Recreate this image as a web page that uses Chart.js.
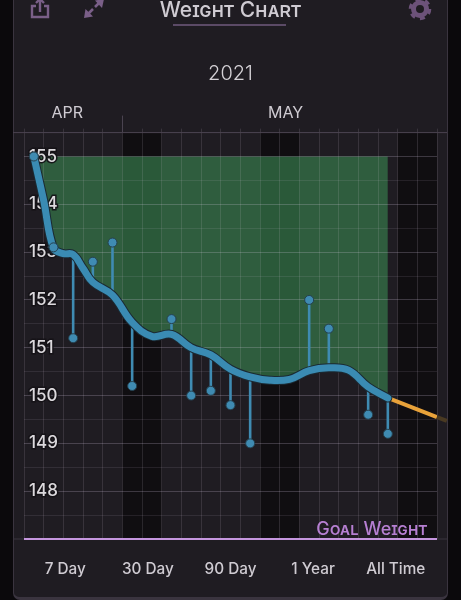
<!DOCTYPE html>
<html><head><meta charset="utf-8">
<script src="https://cdn.jsdelivr.net/npm/chart.js@4"></script>
<style>
html,body{margin:0;padding:0;background:#0b090c;width:461px;height:600px;overflow:hidden}
#card{position:absolute;left:13px;top:-10px;width:433px;height:606px;background:#1f1c22;border:1px solid #3a343f;border-bottom:3px solid #3a343f;border-radius:0 0 7px 7px}
canvas{position:absolute;left:0;top:0}
#rule{position:absolute;left:173px;top:24px;width:113px;height:2px;background:#5b4a66}
svg{position:absolute;left:0;top:0}
</style></head><body>
<div id="card"></div>
<div id="rule"></div>
<svg width="461" height="40" viewBox="0 0 461 40">
  <g fill="none" stroke="#7a5f88" stroke-width="2.4">
    <path d="M36 6H32V17H48V6H44"/><path d="M40 12V0"/>
    <path d="M36 3L40 -1L44 3"/>
  </g>
  <g fill="none" stroke="#7a5f88" stroke-width="2.6">
    <path d="M88 14L93 9M95 7L100 2"/>
  </g>
  <g fill="#7a5f88"><path d="M84 18L85.5 9L93 16.5Z"/><path d="M104 -1L102 8L95 0.5Z"/></g>
  <circle cx="420" cy="9" r="6.5" fill="none" stroke="#6c5279" stroke-width="5"/>
  <circle cx="420" cy="9" r="9.6" fill="none" stroke="#6c5279" stroke-width="3.4" stroke-dasharray="5 5.05"/>
</svg>
<canvas id="c" width="461" height="600"></canvas>
<script>
const trendDays=[0.5,1,1.5,2,2.5,3,3.5,4.5,5.5,6.5,7.5,8.5,9.5,10.5,11.5,12.5,13.5,14.5,15.5,16.5,17.5,18.5];
const trendVals=[155,154.08,153.08,152.97,152.95,152.66,152.37,152.1,151.53,151.24,151.28,151,150.85,150.55,150.39,150.32,150.34,150.52,150.58,150.53,150.18,149.95];
const weighDays=[0.5,1.5,2.5,3.5,4.5,5.5,7.5,8.5,9.5,10.5,11.5,14.5,15.5,17.5,18.5];
const weighVals=[155,153.1,151.2,152.8,153.2,150.2,151.6,150,150.1,149.8,149,152,151.4,149.6,149.2];
const projDays=[18.5,21];
const projVals=[149.95,149.55];
const fadeDays=[21,21.5];
const fadeVals=[149.55,149.47];
const goalDays=[0,21];
const goalVals=[147,147];
const weekendDays=[5,6,12,13,19,20];
const monthLabels=['APR','MAY'];
const monthAt=[2.2,13.3];
const may1=5;
const tabs=['7 Day','30 Day','90 Day','1 Year','All Time'];
const chartTitle='Weight Chart', yearLabel='2021', goalLabel='Goal Weight';
const FONT='Inter, "Open Sans", sans-serif';

const pts=(xs,ys)=>xs.map((x,i)=>({x,y:ys[i]}));
const stems=weighDays.map((d,i)=>({
  type:'line',data:[{x:d,y:weighVals[i]},{x:d,y:trendVals[trendDays.indexOf(d)]}],
  borderColor:'#3f8bb2',borderWidth:2.6,pointRadius:[4.5,0],pointBackgroundColor:'#3f8bb2',
  pointBorderColor:'#25414f',pointBorderWidth:1,order:4
}));

const backdrop={id:'backdrop',
  beforeDraw(ch){
    const {ctx}=ch,x=ch.scales.x,a=ch.chartArea;
    ctx.save();ctx.globalCompositeOperation='destination-over';ctx.fillStyle='#100e11';
    weekendDays.forEach(d=>{
      const l=x.getPixelForValue(d),r=x.getPixelForValue(d+1);
      ctx.fillRect(l,a.top,r-l,a.bottom-a.top);
    });
    ctx.restore();
  },
  beforeDatasetsDraw(ch){
    const {ctx}=ch,x=ch.scales.x,a=ch.chartArea;
    ctx.save();ctx.lineWidth=1;
    ctx.strokeStyle='#4a4350';
    ctx.beginPath();ctx.moveTo(13,a.top);ctx.lineTo(447,a.top);ctx.stroke();
    ctx.strokeStyle='#3a343f';
    ctx.beginPath();ctx.moveTo(13,a.bottom);ctx.lineTo(447,a.bottom);ctx.stroke();
    const m=Math.round(x.getPixelForValue(may1))+.5;
    ctx.strokeStyle='#4a4350';
    ctx.beginPath();ctx.moveTo(m,a.top-17);ctx.lineTo(m,a.top);ctx.stroke();
    ctx.restore();
  },
  afterDatasetsDraw(ch){
    const {ctx}=ch,x=ch.scales.x,y=ch.scales.y;
    ctx.save();ctx.font='small-caps 500 18px '+FONT;ctx.fillStyle='#b67fd2';
    ctx.textAlign='right';ctx.textBaseline='alphabetic';
    ctx.fillText(goalLabel,x.getPixelForValue(20.5),y.getPixelForValue(147)-4);
    ctx.restore();
  }
};

new Chart(document.getElementById('c'),{
  type:'line',
  data:{labels:tabs,datasets:[
    {data:pts(goalDays,goalVals),borderColor:'#c596de',borderWidth:2,pointRadius:0,clip:false,order:6},
    {data:pts(fadeDays,fadeVals),borderColor:'#4a3a22',borderWidth:4,pointRadius:0,clip:false,order:5},
    {data:pts(projDays,projVals),borderColor:'#e8a23a',borderWidth:4,pointRadius:0,order:5},
    ...stems,
    {data:pts(trendDays,trendVals),borderColor:'#1b2a33',borderWidth:9,pointRadius:0,tension:0.4,borderCapStyle:'round',order:3},
    {data:pts(trendDays,trendVals),borderColor:'#3a8bb3',borderWidth:7,pointRadius:0,tension:0.4,borderCapStyle:'round',
      fill:{value:155},backgroundColor:'rgba(55,125,76,0.67)',order:2},
    {data:[{x:weighDays[0],y:weighVals[0]},{x:weighDays[1],y:weighVals[1]}],showLine:false,pointRadius:4.5,pointBackgroundColor:'#3f8bb2',pointBorderColor:'#25414f',pointBorderWidth:1,order:1}
  ]},
  plugins:[backdrop],
  options:{
    responsive:false,animation:false,devicePixelRatio:1,
    parsing:{xAxisKey:'x',yAxisKey:'y'},
    layout:{padding:{left:24,right:24,top:0,bottom:0}},
    plugins:{
      legend:{display:false},tooltip:{enabled:false},
      filler:{drawTime:'beforeDraw',propagate:false},
      title:{display:true,text:chartTitle,color:'#cfcbd2',font:{family:FONT,size:21,weight:'small-caps 500',lineHeight:1.0},padding:{top:0,bottom:43}},
      subtitle:{display:true,text:yearLabel,color:'#d4d1d6',font:{family:FONT,size:20,weight:'300',lineHeight:1.0},padding:{top:0,bottom:0.6}}
    },
    scales:{
      x:{type:'linear',position:'top',min:0,max:21,offset:false,
        ticks:{stepSize:1,display:false,autoSkip:false},
        border:{display:false},
        grid:{color:'rgba(225,210,235,0.13)',lineWidth:1,tickLength:4,drawTicks:true},
        afterFit(s){s.height=4;}
      },
      months:{type:'linear',position:'top',min:0,max:21,
        afterBuildTicks(s){s.ticks=monthAt.map(v=>({value:v}));},
        ticks:{callback:(v)=>monthLabels[monthAt.indexOf(v)],color:'#cfcbd2',font:{family:FONT,size:16},padding:-2,maxRotation:0,autoSkip:false},
        border:{display:false},grid:{display:false},
        afterFit(s){s.height=44;}
      },
      tabs:{type:'category',position:'bottom',labels:tabs,offset:true,
        ticks:{color:'#cfcbd2',font:{family:FONT,size:15.3,weight:'500'},padding:21,maxRotation:0,autoSkip:false},
        border:{display:false},grid:{display:false,drawTicks:false},
        afterFit(s){s.height=61;}
      },
      y:{type:'linear',position:'left',min:147,max:155.5,
        afterBuildTicks(s){s.ticks=[];for(let v=147;v<=155.5;v+=0.5)s.ticks.push({value:v});},
        ticks:{mirror:true,padding:5,autoSkip:false,color:'#dcd9dd',font:{family:FONT,size:17,weight:'500'},
          textStrokeColor:'rgba(20,18,22,0.9)',textStrokeWidth:3,
          callback:v=>(Number.isInteger(v)&&v>147)?String(v):''},
        border:{display:false},
        grid:{drawTicks:false,lineWidth:1,color:c=>Number.isInteger(c.tick.value)?'rgba(225,210,235,0.22)':'rgba(225,210,235,0.10)'},
        afterFit(s){s.width=0;}
      }
    }
  }
});
</script>
</body></html>
